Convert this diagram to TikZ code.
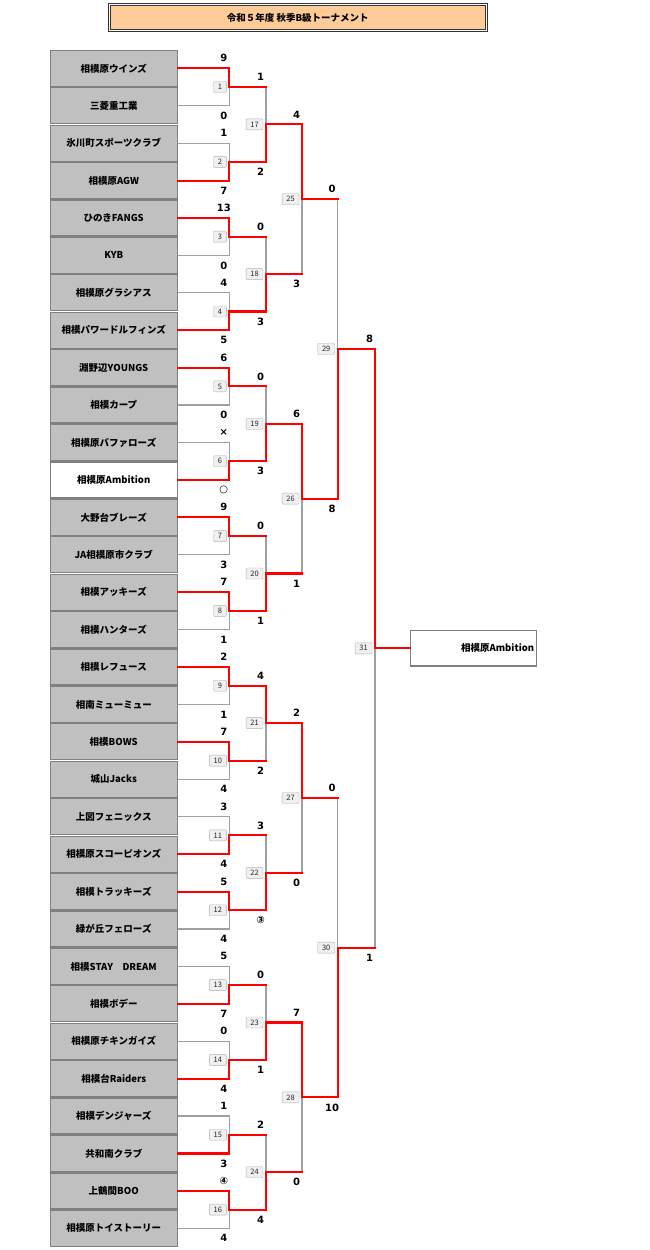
\documentclass[tikz,border=0pt]{standalone}
\usepackage{fontspec}
\setmainfont{Noto Sans CJK JP}
\newfontfamily\scorefont{DejaVu Sans}
\usetikzlibrary{positioning}
\definecolor{boxgray}{HTML}{C0C0C0}
\definecolor{titlebg}{HTML}{FFCC99}
\definecolor{linegray}{HTML}{A0A0A0}
\definecolor{winred}{HTML}{FF0000}
\tikzset{
  team/.style={draw=gray, line width=1.2pt, fill=boxgray, minimum width=127.3pt, minimum height=36pt, inner sep=0pt, font=\bfseries\fontsize{9.5}{11}\selectfont},
  champ/.style={draw=gray, line width=1.2pt, fill=white, minimum height=35.5pt, text width=121pt, align=right, inner xsep=2.5pt, font=\bfseries\fontsize{9.5}{11}\selectfont},
  title/.style={draw=gray!40!black, line width=1pt, double=white, double distance=0.7pt, fill=titlebg, minimum width=377pt, minimum height=26pt, font=\bfseries\fontsize{9.5}{11}\selectfont},
  mnum/.style={draw=gray!60, fill=gray!12, rounded corners=1pt, minimum height=11pt, inner xsep=4.3pt, inner ysep=1.5pt, text=gray!30!black, font=\fontsize{7.5}{8}\selectfont},
  score/.style={font=\scorefont\bfseries\fontsize{10}{12}\selectfont, inner sep=0pt},
  lose/.style={draw=linegray, line width=1.2pt},
  win/.style={draw=winred, line width=2.1pt, line cap=rect},
}
\begin{document}
\begin{tikzpicture}[x=1pt, y=-1pt]
\useasboundingbox (0,0) rectangle (650,1250);
\node[title] (ttl) at (297.85,17.5) {令和５年度 秋季B級トーナメント};

% teams
\foreach \name [count=\i] in {相模原ウインズ, 三菱重工業, 氷川町スポーツクラブ, 相模原AGW, ひのきFANGS, KYB, 相模原グラシアス, 相模パワードルフィンズ, 淵野辺YOUNGS, 相模カープ, 相模原バファローズ, 相模原Ambition, 大野台ブレーズ, JA相模原市クラブ, 相模アッキーズ, 相模ハンターズ, 相模レフュース, 相南ミューミュー, 相模BOWS, 城山Jacks, 上図フェニックス, 相模原スコーピオンズ, 相模トラッキーズ, 緑が丘フェローズ, 相模STAY　DREAM, 相模ボデー, 相模原チキンガイズ, 相模台Raiders, 相模デンジャーズ, 共和南クラブ, 上鶴間BOO, 相模原トイストーリー}{
  \ifnum\i=12 \def\bg{white}\else\def\bg{boxgray}\fi
  \node[team, fill=\bg] (t\i) at (113.75, {68.3+37.42*(\i-1)}) {\name};
}

% match points
\foreach \r/\first/\n/\xx in {1/0/16/229.3, 2/16/8/266, 3/24/4/302, 4/28/2/337.7, 5/30/1/375}{
  \foreach \k in {1,...,\n}{
    \pgfmathtruncatemacro\m{\first+\k}
    \pgfmathsetmacro\yy{68.3+37.42*(2^\r*\k-2^(\r-1)-0.5)}
    \coordinate (j\m) at (\xx,\yy);
  }
}
\node[champ, right=35pt of j31] (champ) {相模原Ambition};

% brackets and scores
\foreach \m/\a/\b/\w/\sa/\sb in {1/t1/t2/1/9/0, 2/t3/t4/2/1/7, 3/t5/t6/1/13/0, 4/t7/t8/2/4/5,
    5/t9/t10/1/6/0, 6/t11/t12/2/×/○, 7/t13/t14/1/9/3, 8/t15/t16/1/7/1,
    9/t17/t18/1/2/1, 10/t19/t20/1/7/4, 11/t21/t22/2/3/4, 12/t23/t24/1/5/4,
    13/t25/t26/2/5/7, 14/t27/t28/2/0/4, 15/t29/t30/2/1/3, 16/t31/t32/1/④/4,
    17/j1/j2/2/1/2, 18/j3/j4/2/0/3, 19/j5/j6/2/0/3, 20/j7/j8/2/0/1,
    21/j9/j10/1/4/2, 22/j11/j12/2/3/③, 23/j13/j14/2/0/1, 24/j15/j16/2/2/4,
    25/j17/j18/1/4/3, 26/j19/j20/1/6/1, 27/j21/j22/1/2/0, 28/j23/j24/1/7/0,
    29/j25/j26/2/0/8, 30/j27/j28/2/0/10, 31/j29/j30/1/8/1}{
  \ifnum\w=1 \def\W{\a}\def\L{\b}\else\def\W{\b}\def\L{\a}\fi
  \path [lose] (\L) -| (j\m);
  \ifnum\m>16 \path [win] (\L) -- (j\m |- \L); \fi
  \path [win] (\W) -| (j\m);
  \node[mnum, left=2.8pt of j\m] (n\m) {\m};
  \path (j\m |- \a) ++(-5.5,-10) node[score] (sa\m) {\sa};
  \path (j\m |- \b) ++(-5.5,10) node[score] (sb\m) {\sb};
}
\path [win] (j31) -- (champ);
\end{tikzpicture}
\end{document}
